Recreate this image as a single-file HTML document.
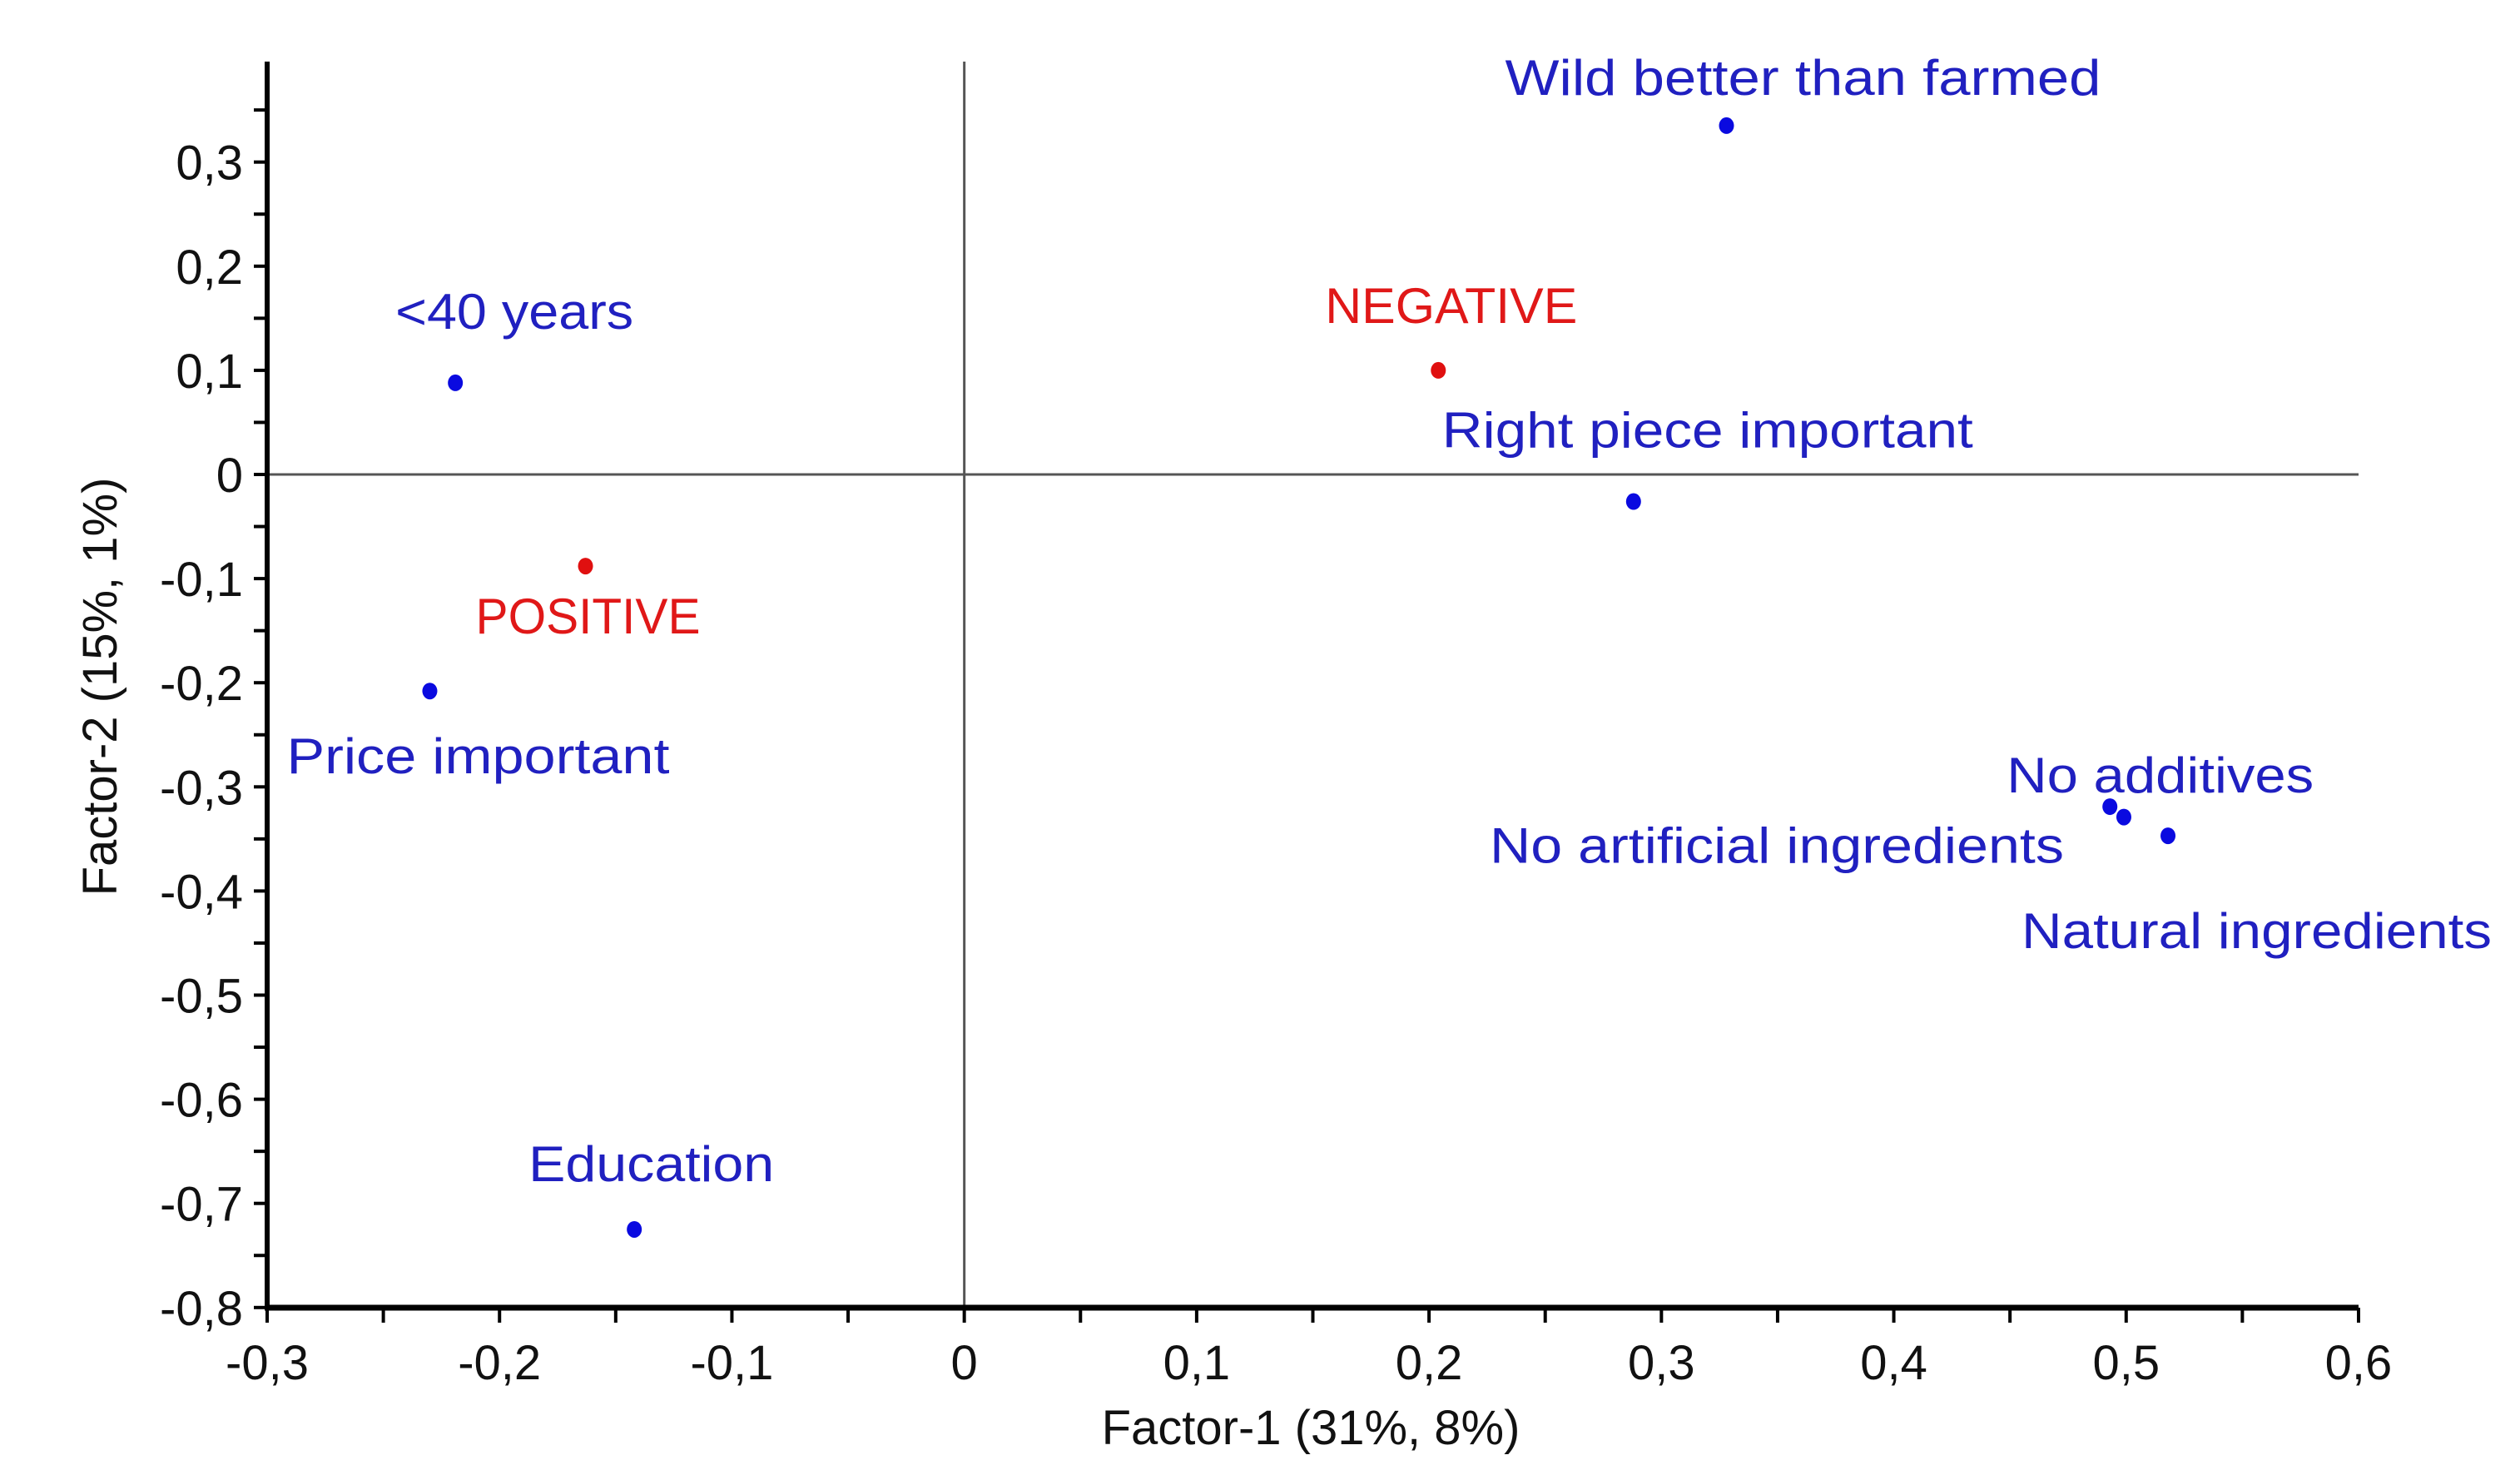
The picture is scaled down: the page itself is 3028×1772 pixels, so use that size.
<!DOCTYPE html>
<html><head><meta charset="utf-8">
<style>
html,body{margin:0;padding:0;background:#fff;}
svg{display:block;}
text{font-family:"Liberation Sans",sans-serif;}
</style></head>
<body>
<svg id="chart" width="3028" height="1772" viewBox="0 0 3028 1772" xmlns="http://www.w3.org/2000/svg">
<g id="grid"></g>
</svg>
<script>
const categories = ["Wild better than farmed","<40 years","NEGATIVE","Right piece important","POSITIVE","Price important","No additives","No artificial ingredients","Natural ingredients","Education"];
const xValues = [0.328,-0.219,0.204,0.288,-0.163,-0.230,0.493,0.499,0.518,-0.142];
const yValues = [0.335,0.088,0.100,-0.026,-0.088,-0.208,-0.319,-0.329,-0.347,-0.725];
const seriesGroup = ["var","var","group","var","group","var","var","var","var","var"];
const xTickLabels = ["-0,3","-0,2","-0,1","0","0,1","0,2","0,3","0,4","0,5","0,6"];
const xTickValues = [-0.3,-0.2,-0.1,0,0.1,0.2,0.3,0.4,0.5,0.6];
const yTickLabels = ["0,3","0,2","0,1","0","-0,1","-0,2","-0,3","-0,4","-0,5","-0,6","-0,7","-0,8"];
const yTickValues = [0.3,0.2,0.1,0,-0.1,-0.2,-0.3,-0.4,-0.5,-0.6,-0.7,-0.8];

const X0=321,X1=2834,Y0=1571,YTOP=74;
function xs(v){return X0+(v+0.3)/0.9*(X1-X0);}
function ys(v){return 570-(v)*1251;}
// label offsets (layout, px relative to point): [dx, dy, width]
const labelLayout=[[-266,-37,716],[-72,-65,286],[-136,-57,303],[-230,-65,638],[-132,81,270],[-172,99,460],[-124,-17,369],[-762,55,690],[-176,135,565],[-127,-58,295]];

const svg=document.getElementById('chart');
const NS='http://www.w3.org/2000/svg';
function mk(tag,attrs,parent){const e=document.createElementNS(NS,tag);for(const k in attrs)e.setAttribute(k,attrs[k]);(parent||svg).appendChild(e);return e;}

let zl=mk('line',{x1:xs(0),x2:xs(0),y1:YTOP,y2:Y0,stroke:'#555','stroke-width':3});


let zh=mk('line',{x1:X0,x2:X1,y1:ys(0),y2:ys(0),stroke:'#555','stroke-width':3});



let ya=mk('line',{x1:X0,x2:X0,y1:YTOP,y2:Y0+3,stroke:'#000','stroke-width':6});


let xa=mk('line',{x1:X0-3,x2:X1,y1:Y0,y2:Y0,stroke:'#000','stroke-width':7});



for(let i=0;i<=18;i++){const v=-0.3+i*0.05;const t=mk('line',{x1:xs(v),x2:xs(v),y1:Y0,y2:Y0+18,stroke:'#000','stroke-width':4});

}
for(let i=0;i<=23;i++){const v=-0.8+i*0.05;const t=mk('line',{x1:X0-16,x2:X0,y1:ys(v),y2:ys(v),stroke:'#000','stroke-width':4});

}

xTickValues.forEach((v,i)=>{const t=mk('text',{x:xs(v),y:1657,'text-anchor':'middle','font-size':58,fill:'#111'});t.textContent=xTickLabels[i];

});
yTickValues.forEach((v,i)=>{const t=mk('text',{x:292,y:ys(v)+21,'text-anchor':'end','font-size':58,fill:'#111'});t.textContent=yTickLabels[i];

});

let xt=mk('text',{x:1575,y:1735,'text-anchor':'middle','font-size':58,fill:'#111'});xt.textContent='Factor-1 (31%, 8%)';


let yt=mk('text',{x:0,y:0,'text-anchor':'middle','font-size':58,fill:'#111',transform:'translate(140,825) rotate(-90)'});yt.textContent='Factor-2 (15%, 1%)';



categories.forEach((c,i)=>{
  const px=xs(xValues[i]),py=ys(yValues[i]);
  const col=seriesGroup[i]==='group'?'#e01010':'#0a0ae0';
  const tcol=seriesGroup[i]==='group'?'#e01818':'#2020c0';
  const d=mk('ellipse',{cx:px,cy:py,rx:9,ry:10,fill:col});
  
  
  const L=labelLayout[i];
  const t=mk('text',{x:px+L[0],y:py+L[1],'font-size':60,fill:tcol,textLength:L[2],lengthAdjust:'spacingAndGlyphs'});
  t.textContent=c;
  
  
});
</script>
</body></html>
